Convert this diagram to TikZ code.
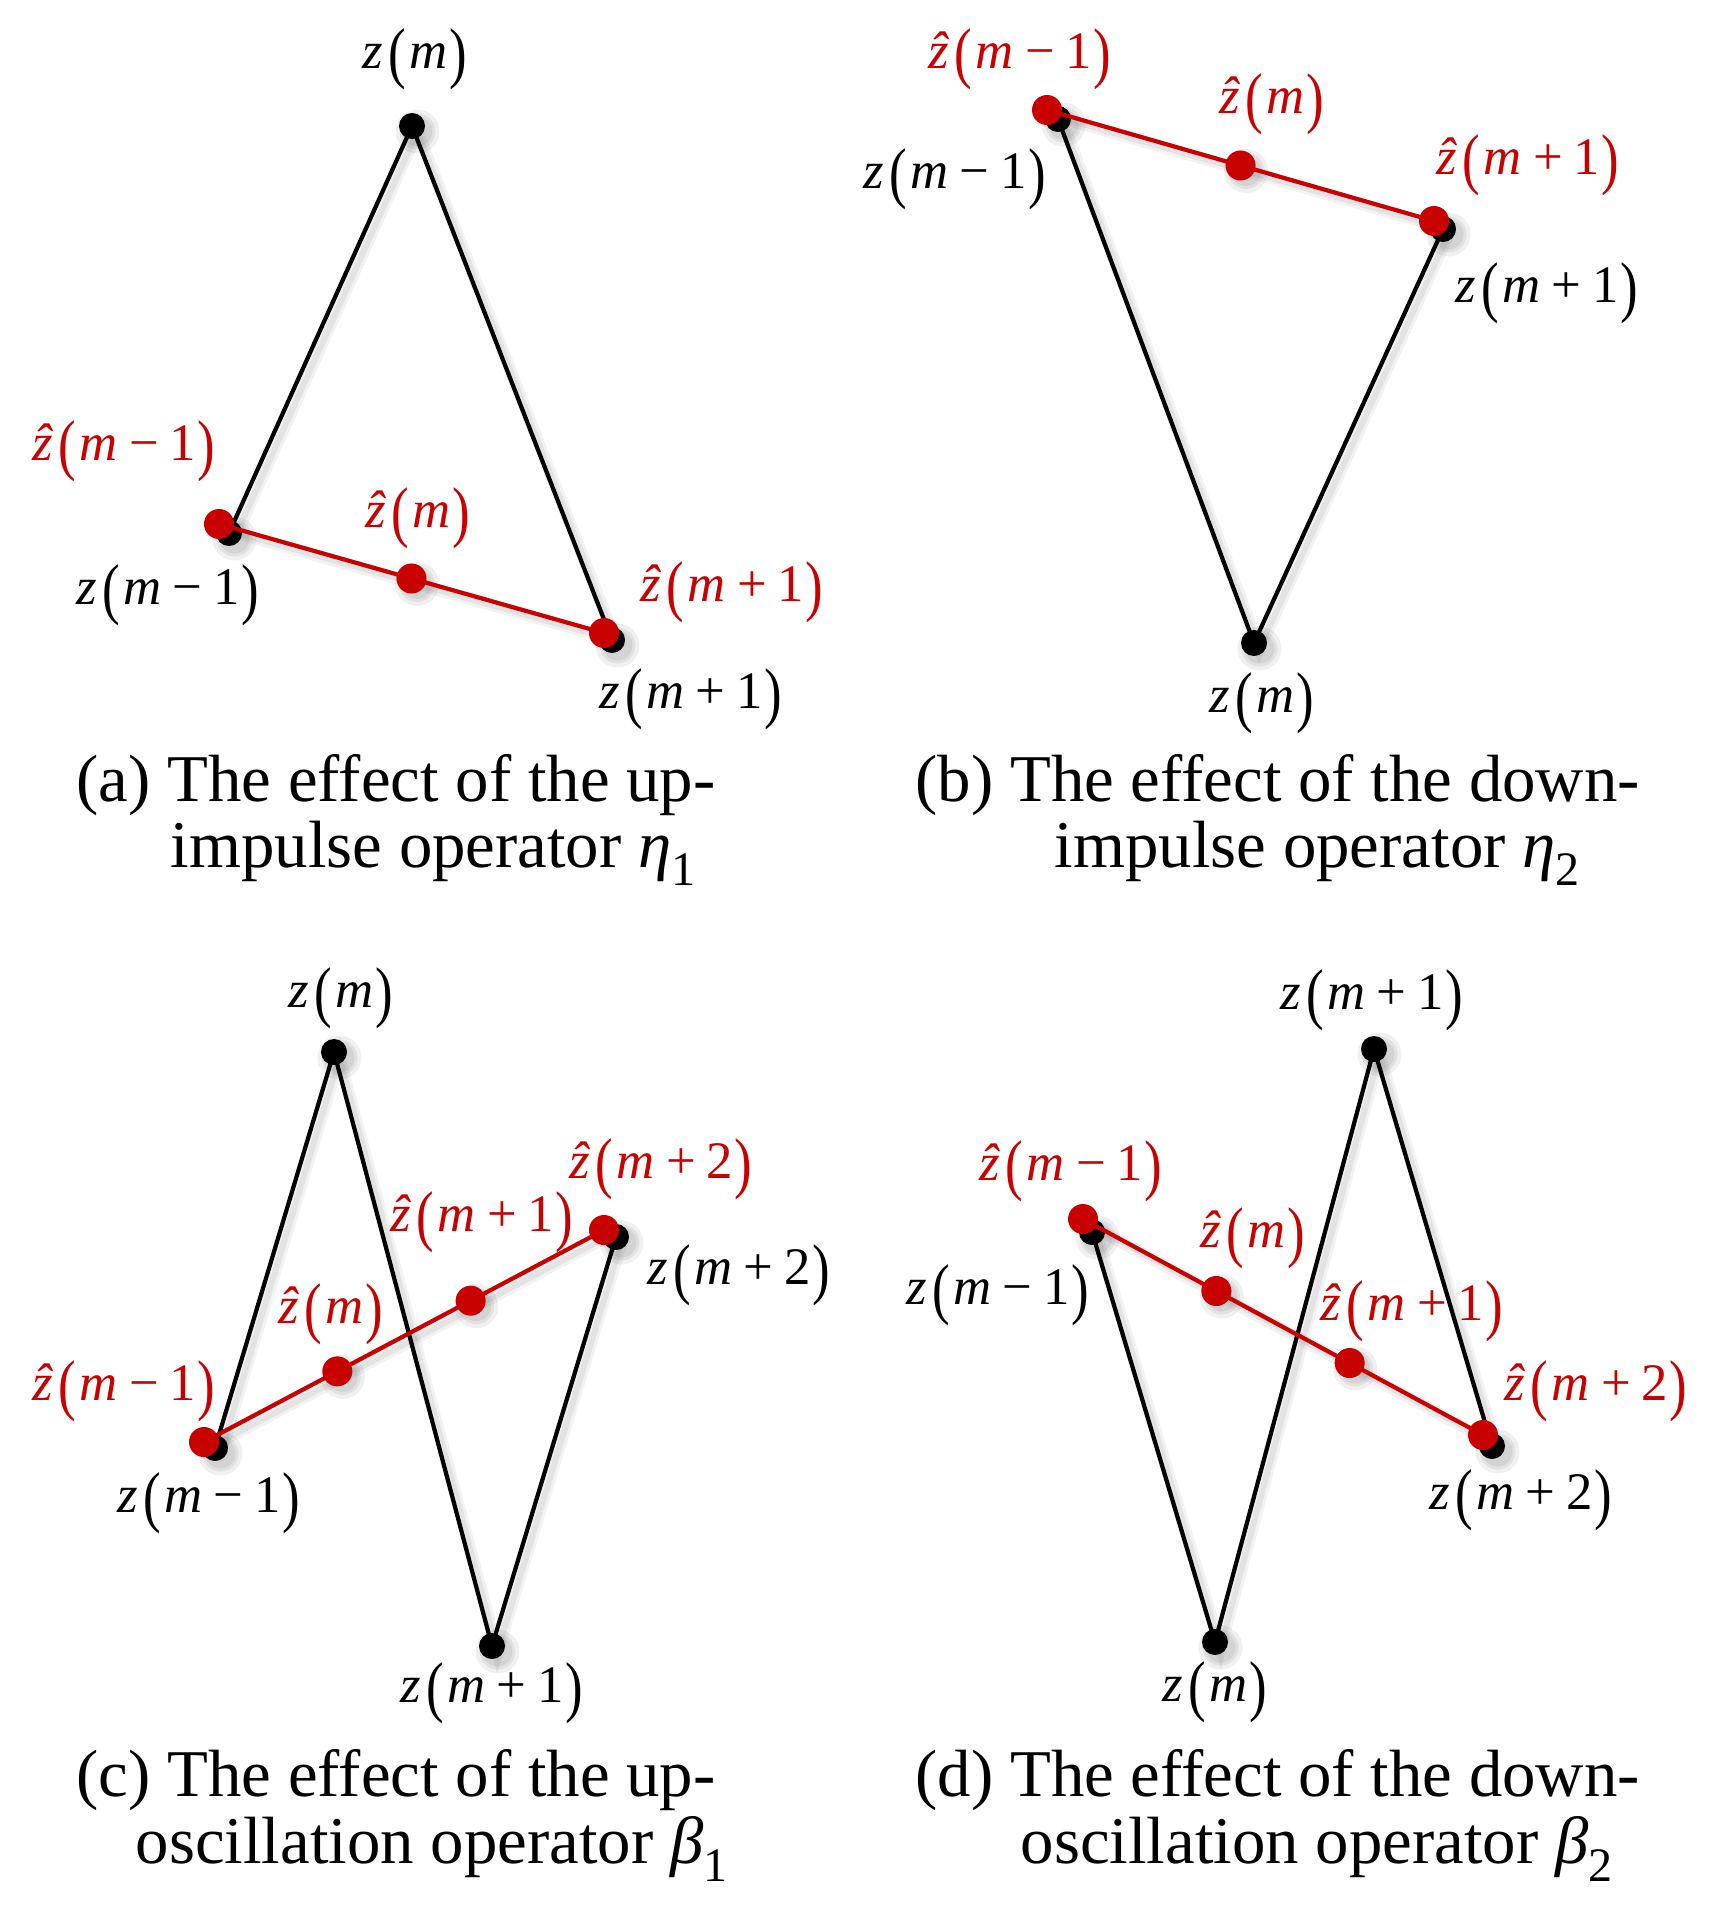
\documentclass[tikz,border=0pt]{standalone}
\usepackage{fontspec}
\setmainfont{Liberation Serif}
\usepackage{graphicx}
\usetikzlibrary{calc}
\definecolor{zred}{RGB}{200,0,0}
\newcommand{\lpar}{\raisebox{-0.13em}{\scalebox{1}[1.28]{(}}}
\newcommand{\rpar}{\raisebox{-0.13em}{\scalebox{1}[1.28]{)}}}
\newcommand{\zz}[1]{\textit{z}\kern0.1em\lpar\kern0.06em#1\kern0.04em\rpar}
\newcommand{\zh}[1]{\textit{\^{z}}\kern0.1em\lpar\kern0.06em#1\kern0.04em\rpar}
\newcommand{\Mz}{\textit{m}}
\newcommand{\Mmi}{\textit{m}\kern0.22em−\kern0.2em1}
\newcommand{\Mpi}{\textit{m}\kern0.22em+\kern0.2em1}
\newcommand{\Mpii}{\textit{m}\kern0.22em+\kern0.2em2}
\newcommand{\subnum}[1]{\raisebox{-0.28em}{\scalebox{0.72}{#1}}}
\tikzset{
  bdot/.style={circle, fill=black, inner sep=0pt, minimum size=2.6mm},
  rdot/.style={circle, fill=zred, inner sep=0pt, minimum size=3.0mm},
  bline/.style={line width=0.42mm, black},
  rline/.style={line width=0.42mm, zred},
  shline/.style={line width=1.2mm, black, opacity=0.05},
  shlineb/.style={line width=0.6mm, black, opacity=0.06},
  shdot/.style={black, opacity=0.06},
  lab/.style={font=\fontsize{15}{18}\selectfont, inner sep=0pt},
  rlab/.style={lab, text=zred},
  captext/.style={font=\fontsize{19}{22}\selectfont, anchor=base west, inner sep=0pt}
}
\begin{document}
\begin{tikzpicture}[x=0.01cm, y=-0.01cm]
\fill[white] (0,0) rectangle (1715,1912);
\useasboundingbox (0,0) rectangle (1715,1912);
% ---------- coordinates ----------
% (a)
\coordinate (a_zm) at (412,126);
\coordinate (a_zm1) at (229,533);
\coordinate (a_zp1) at (612,640);
\coordinate (a_hm1) at (219,524);
\coordinate (a_hp1) at (604,633);
\coordinate (a_hm) at ($(a_hm1)!0.5!(a_hp1)$);
% (b)
\coordinate (b_zm) at (1254,643);
\coordinate (b_zm1) at (1058,119);
\coordinate (b_zp1) at (1443,229);
\coordinate (b_hm1) at (1047,110);
\coordinate (b_hp1) at (1434,221);
\coordinate (b_hm) at ($(b_hm1)!0.5!(b_hp1)$);
% (c)
\coordinate (c_zm) at (334,1052);
\coordinate (c_zm1) at (215,1448);
\coordinate (c_zp1) at (492,1646);
\coordinate (c_zp2) at (616,1237);
\coordinate (c_hm1) at (204,1442);
\coordinate (c_hp2) at (604,1230);
\coordinate (c_hm) at ($(c_hm1)!1/3!(c_hp2)$);
\coordinate (c_hp1) at ($(c_hm1)!2/3!(c_hp2)$);
% (d)
\coordinate (d_zm) at (1215,1642);
\coordinate (d_zm1) at (1092,1232);
\coordinate (d_zp1) at (1374,1049);
\coordinate (d_zp2) at (1492,1446);
\coordinate (d_hm1) at (1083,1219);
\coordinate (d_hp2) at (1483,1435);
\coordinate (d_hm) at ($(d_hm1)!1/3!(d_hp2)$);
\coordinate (d_hp1) at ($(d_hm1)!2/3!(d_hp2)$);
% ---------- soft shadows ----------
\begin{scope}[transform canvas={shift={(0.55mm,-0.55mm)}}]
\foreach \s in {shline,shlineb}{
\draw[\s] (a_zm1) -- (a_zm) -- (a_zp1);
\draw[\s] (a_hm1) -- (a_hp1);
\draw[\s] (b_zm1) -- (b_zm) -- (b_zp1);
\draw[\s] (b_hm1) -- (b_hp1);
\draw[\s] (c_zm1) -- (c_zm) -- (c_zp1) -- (c_zp2);
\draw[\s] (c_hm1) -- (c_hp2);
\draw[\s] (d_zm1) -- (d_zm) -- (d_zp1) -- (d_zp2);
\draw[\s] (d_hm1) -- (d_hp2);
}
\foreach \p in {a_zm,a_zm1,a_zp1,a_hm,b_zm,b_zm1,b_zp1,b_hm,c_zm,c_zm1,c_zp1,c_zp2,c_hm,c_hp1,d_zm,d_zm1,d_zp1,d_zp2,d_hm,d_hp1}{
  \fill[shdot] (\p) circle (2.2mm);
  \fill[shdot] (\p) circle (1.8mm);
  \fill[shdot] (\p) circle (1.5mm);
}
\end{scope}
% ---------- black polylines ----------
\draw[bline] (a_zm1) -- (a_zm) -- (a_zp1);
\draw[bline] (b_zm1) -- (b_zm) -- (b_zp1);
\draw[bline] (c_zm1) -- (c_zm) -- (c_zp1) -- (c_zp2);
\draw[bline] (d_zm1) -- (d_zm) -- (d_zp1) -- (d_zp2);
% black dots
\foreach \p in {a_zm,a_zm1,a_zp1,b_zm,b_zm1,b_zp1,c_zm,c_zm1,c_zp1,c_zp2,d_zm,d_zm1,d_zp1,d_zp2}
  \node[bdot] (n\p) at (\p) {};
% ---------- red lines ----------
\draw[rline] (a_hm1) -- (a_hm) -- (a_hp1);
\draw[rline] (b_hm1) -- (b_hm) -- (b_hp1);
\draw[rline] (c_hm1) -- (c_hm) -- (c_hp1) -- (c_hp2);
\draw[rline] (d_hm1) -- (d_hm) -- (d_hp1) -- (d_hp2);
\foreach \p in {a_hm1,a_hm,a_hp1,b_hm1,b_hm,b_hp1,c_hm1,c_hm,c_hp1,c_hp2,d_hm1,d_hm,d_hp1,d_hp2}
  \node[rdot] (n\p) at (\p) {};
% ---------- labels (a) ----------
\node[lab] (la_zm) at (415,59) {\zz{\Mz}};
\node[rlab] (la_hm1) at (124,451) {\zh{\Mmi}};
\node[lab] (la_zm1) at (168,595) {\zz{\Mmi}};
\node[rlab] (la_hm) at (418,518) {\zh{\Mz}};
\node[rlab] (la_hp1) at (732,592) {\zh{\Mpi}};
\node[lab] (la_zp1) at (691,699) {\zz{\Mpi}};
% labels (b)
\node[rlab] (lb_hm1) at (1020,59) {\zh{\Mmi}};
\node[lab] (lb_zm1) at (955,179) {\zz{\Mmi}};
\node[rlab] (lb_hm) at (1272,104) {\zh{\Mz}};
\node[rlab] (lb_hp1) at (1528,165) {\zh{\Mpi}};
\node[lab] (lb_zp1) at (1547,293) {\zz{\Mpi}};
\node[lab] (lb_zm) at (1262,703) {\zz{\Mz}};
% labels (c)
\node[lab] (lc_zm) at (341,998) {\zz{\Mz}};
\node[rlab] (lc_hp2) at (661,1169) {\zh{\Mpii}};
\node[rlab] (lc_hp1) at (482,1222) {\zh{\Mpi}};
\node[lab] (lc_zp2) at (739,1275) {\zz{\Mpii}};
\node[rlab] (lc_hm) at (331,1314) {\zh{\Mz}};
\node[rlab] (lc_hm1) at (124,1391) {\zh{\Mmi}};
\node[lab] (lc_zm1) at (209,1503) {\zz{\Mmi}};
\node[lab] (lc_zp1) at (492,1693) {\zz{\Mpi}};
% labels (d)
\node[lab] (ld_zp1) at (1372,1000) {\zz{\Mpi}};
\node[rlab] (ld_hm1) at (1071,1171) {\zh{\Mmi}};
\node[lab] (ld_zm1) at (998,1295) {\zz{\Mmi}};
\node[rlab] (ld_hm) at (1253,1238) {\zh{\Mz}};
\node[rlab] (ld_hp1) at (1412,1311) {\zh{\Mpi}};
\node[rlab] (ld_hp2) at (1596,1391) {\zh{\Mpii}};
\node[lab] (ld_zp2) at (1521,1500) {\zz{\Mpii}};
\node[lab] (ld_zm) at (1215,1692) {\zz{\Mz}};
% ---------- captions ----------
\node[captext] (capa1) at (76,801) {(a) The effect of the up-};
\node[captext] (capa2) at (170,867) {impulse operator \textit{η}\subnum{1}};
\node[captext] (capb1) at (915,801) {(b) The effect of the down-};
\node[captext] (capb2) at (1054,867) {impulse operator \textit{η}\subnum{2}};
\node[captext] (capc1) at (76,1796) {(c) The effect of the up-};
\node[captext] (capc2) at (135,1863) {oscillation operator \textit{β}\subnum{1}};
\node[captext] (capd1) at (915,1796) {(d) The effect of the down-};
\node[captext] (capd2) at (1020,1863) {oscillation operator \textit{β}\subnum{2}};
\end{tikzpicture}
\end{document}
